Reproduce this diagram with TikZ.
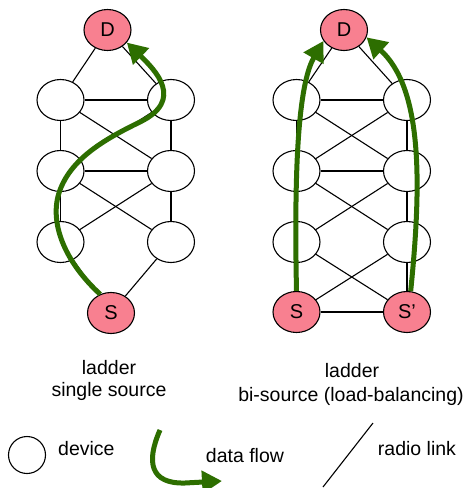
\documentclass[tikz,border=0pt]{standalone}
\usepackage{fontspec}
\setmainfont{Liberation Sans}
\usetikzlibrary{arrows.meta,shapes.geometric}
\definecolor{pinkn}{RGB}{248,128,144}
\definecolor{flowgreen}{RGB}{45,110,0}
\begin{document}
\begin{tikzpicture}[x=1pt,y=-1pt,
  dev/.style={ellipse, draw=black, fill=white, line width=1.1pt, minimum width=47pt, minimum height=41pt, inner sep=0pt, font=\fontsize{20}{24}\selectfont},
  term/.style={dev, fill=pinkn},
  link/.style={draw=black, line width=1.1pt},
  flowarrow/.style={draw=flowgreen, line width=5pt, -{Triangle[length=20pt,width=22pt]}},
  lbl/.style={font=\fontsize{19.5}{22}\selectfont, anchor=base, inner sep=0pt}
]
\useasboundingbox (0,0) rectangle (467,488);

% ---------- left ladder ----------
\node[term] (LD) at (107.5,30) {D};
\node[dev] (La1) at (60.5,100) {};
\node[dev] (Lb1) at (171,100) {};
\node[dev] (La2) at (60.5,171) {};
\node[dev] (Lb2) at (171,171) {};
\node[dev] (La3) at (60.5,242) {};
\node[dev] (Lb3) at (171,242) {};
\node[term] (LS) at (111,313) {S};

\draw[link] (LD) -- (La1);
\draw[link] (LD) -- (Lb1);
\draw[link] (La1) -- (Lb1);
\draw[link] (La1) -- (La2);
\draw[link] (Lb1) -- (Lb2);
\draw[link] (La1) -- (Lb2);
\draw[link] (Lb1) -- (La2);
\draw[link] (La2) -- (Lb2);
\draw[link] (La2) -- (La3);
\draw[link] (Lb2) -- (Lb3);
\draw[link] (La2) -- (Lb3);
\draw[link] (Lb2) -- (La3);
\draw[link] (La3) -- (LS);
\draw[link] (Lb3) -- (LS);

\draw[flowarrow] (LS.120) .. controls (65,262) and (48,222) .. (60,190)
   .. controls (72,158) and (105,139) .. (140,122)
   .. controls (185,100) and (155,70) .. (LD.-33);

% ---------- right ladder ----------
\node[term] (RD) at (344,30) {D};
\node[dev] (Ra1) at (296.5,100) {};
\node[dev] (Rb1) at (407,100) {};
\node[dev] (Ra2) at (296.5,171) {};
\node[dev] (Rb2) at (407,171) {};
\node[dev] (Ra3) at (296.5,242) {};
\node[dev] (Rb3) at (407,242) {};
\node[term] (RS) at (296.5,312) {S};
\node[term] (RS2) at (407,312) {S’};

\draw[link] (RD) -- (Ra1);
\draw[link] (RD) -- (Rb1);
\draw[link] (Ra1) -- (Rb1);
\draw[link] (Ra1) -- (Ra2);
\draw[link] (Rb1) -- (Rb2);
\draw[link] (Ra1) -- (Rb2);
\draw[link] (Rb1) -- (Ra2);
\draw[link] (Ra2) -- (Rb2);
\draw[link] (Ra2) -- (Ra3);
\draw[link] (Rb2) -- (Rb3);
\draw[link] (Ra2) -- (Rb3);
\draw[link] (Rb2) -- (Ra3);
\draw[link] (Ra3) -- (RS);
\draw[link] (Rb3) -- (RS2);
\draw[link] (Ra3) -- (RS2);
\draw[link] (Rb3) -- (RS);
\draw[link] (RS) -- (RS2);

\draw[flowarrow] (RS.90) .. controls (294,170) and (298,85) .. (RD.-152);
\draw[flowarrow] (RS2.80) .. controls (422,180) and (422,88) .. (RD.-18);

% ---------- captions ----------
\node[lbl] (capL1) at (109,374) {ladder};
\node[lbl] (capL2) at (109,396) {single source};
\node[lbl] (capR1) at (352,377) {ladder};
\node[lbl] (capR2) at (351,401) {bi-source (load-balancing)};

% ---------- legend ----------
\node[dev, minimum width=37pt, minimum height=37pt] (legdev) at (27,455) {};
\node[lbl, anchor=base west] (legdevtxt) at (58,455) {device};

\coordinate (fa) at (160,430);
\coordinate (fb) at (222,481);
\draw[flowarrow] (fa) .. controls (146,462) and (150,484) .. (185,483) -- (fb);
\node[lbl] (legflowtxt) at (245,462.5) {data flow};

\coordinate (ra) at (373,423);
\coordinate (rb) at (323,487);
\draw[link] (ra) -- (rb);
\node[lbl] (legradiotxt) at (417,455) {radio link};
\end{tikzpicture}
\end{document}
